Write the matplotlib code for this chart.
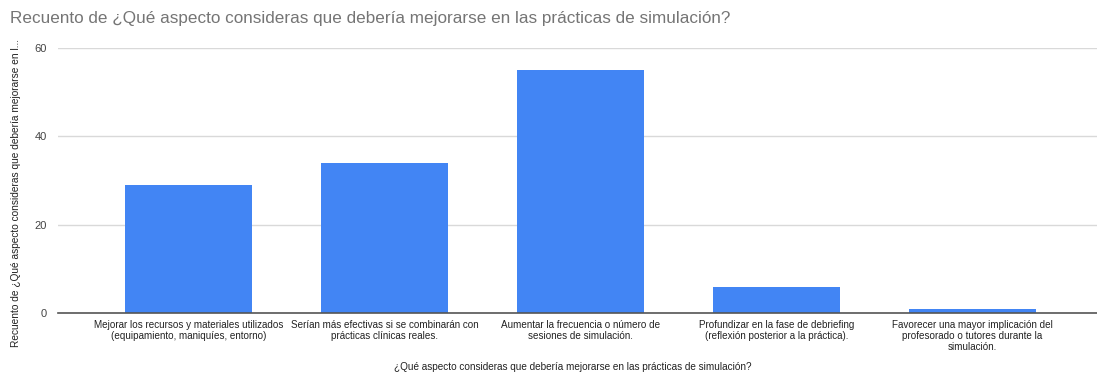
import matplotlib
matplotlib.use("Agg")
import matplotlib.pyplot as plt

plt.rcParams['font.family'] = ['Liberation Sans', 'DejaVu Sans']

categories = [
    "Mejorar los recursos y materiales utilizados\n(equipamiento, maniquíes, entorno)",
    "Serían más efectivas si se combinarán con\nprácticas clínicas reales.",
    "Aumentar la frecuencia o número de\nsesiones de simulación.",
    "Profundizar en la fase de debriefing\n(reflexión posterior a la práctica).",
    "Favorecer una mayor implicación del\nprofesorado o tutores durante la\nsimulación.",
]
counts = [29, 34, 55, 6, 1]
yticks = [0, 20, 40, 60]

title = "Recuento de ¿Qué aspecto consideras que debería mejorarse en las prácticas de simulación?"
xlabel = "¿Qué aspecto consideras que debería mejorarse en las prácticas de simulación?"
ylabel = "Recuento de ¿Qué aspecto consideras que debería mejorarse en l..."

W, H = 1097, 376
fig = plt.figure(figsize=(W / 100, H / 100), dpi=100)
ax = fig.add_axes([58 / W, 1 - 313 / H, 1 - 58 / W, (313 - 48) / H])

x = list(range(len(categories)))
ax.bar(x, counts, width=0.65, color='#4285f4', zorder=3)

ax.set_xlim(-0.666, 4.635)
ax.set_ylim(0, 60)
ax.set_yticks(yticks)
ax.set_xticks(x)
ax.set_xticklabels(categories, fontsize=7.15, color='#222222', linespacing=1.15)
ax.tick_params(axis='x', length=0, pad=5)
ax.tick_params(axis='y', length=0, pad=8, labelsize=8, labelcolor='#444444')

ax.grid(axis='y', color='#d9d9d9', linewidth=1, zorder=0)
for side in ['top', 'right', 'left']:
    ax.spines[side].set_visible(False)
ax.spines['bottom'].set_color('#555555')
ax.spines['bottom'].set_linewidth(1.2)
ax.spines['bottom'].set_zorder(4)

fig.text(10 / W, 1 - 18 / H, title, fontsize=12.3, color='#757575', va='center', ha='left')
fig.text(573 / W, 1 - 367 / H, xlabel, fontsize=7.2, color='#222222', ha='center', va='center')
fig.text(16 / W, 1 - 193 / H, ylabel, fontsize=7.3, color='#222222', rotation=90,
         ha='center', va='center')

fig.savefig("out.png", dpi=100)
